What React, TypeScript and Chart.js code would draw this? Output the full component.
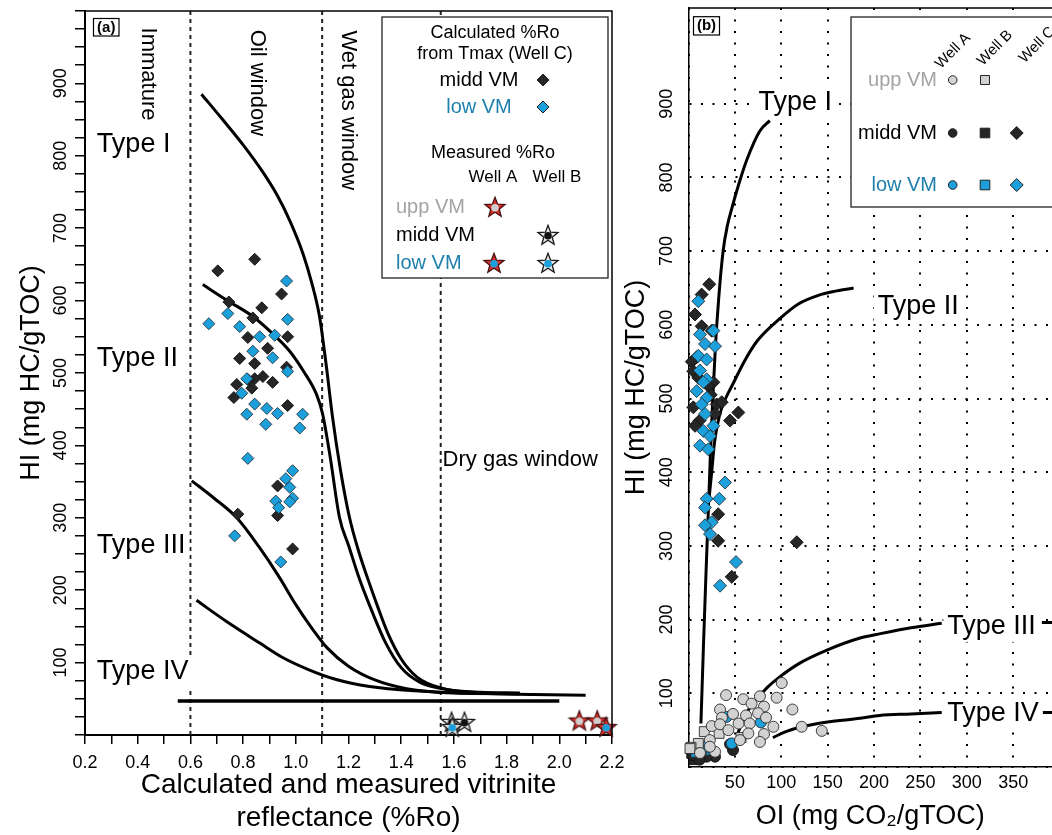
import React, { useEffect, useRef } from 'react';
import { Chart, registerables } from 'chart.js';

Chart.register(...registerables);

const FONT = '"Liberation Sans", Arial, Helvetica, sans-serif';
const BLUE = '#1ba0dc';
const BLUE_TEXT = '#1f80ad';
const GRAY_TEXT = '#a3a3a3';
const DARK = '#262626';
const GRAY_FILL = '#d2d2d2';
const RED = '#d9302c';

type P = [number, number];

// ---------------- Panel (a): HI vs %Ro ----------------
const roTickLabels = ['0.2', '0.4', '0.6', '0.8', '1.0', '1.2', '1.4', '1.6', '1.8', '2.0', '2.2'];
const hiTickLabels = [100, 200, 300, 400, 500, 600, 700, 800, 900];

const calcRoMiddVM: P[] = [
  [0.844, 657], [0.704, 641], [0.946, 609], [0.746, 598], [0.871, 590], [0.837, 576],
  [0.818, 549], [0.969, 550], [0.893, 534], [0.787, 520], [0.844, 513], [0.965, 508],
  [0.875, 495], [0.844, 492], [0.818, 491], [0.776, 484], [0.912, 487], [0.833, 479],
  [0.765, 466], [0.969, 455], [0.931, 344], [0.931, 303], [0.78, 305], [0.988, 257],
];
const calcRoLowVM: P[] = [
  [0.965, 627], [0.742, 582], [0.67, 568], [0.969, 574], [0.787, 564], [0.863, 550],
  [0.92, 552], [0.837, 530], [0.912, 521], [0.969, 502], [0.814, 492], [0.795, 472],
  [0.844, 457], [0.814, 443], [0.89, 451], [0.931, 444], [1.026, 443], [0.886, 429],
  [1.015, 424], [0.818, 382], [0.988, 365], [0.962, 354], [0.977, 342], [0.924, 323],
  [0.988, 327], [0.935, 314], [0.977, 322], [0.768, 275], [0.943, 239],
];
const measuredWellAUpp: P[] = [[2.076, 20], [2.144, 20]];
const measuredWellALow: P[] = [[2.178, 11]];
const measuredWellBMidd: P[] = [[1.591, 18], [1.64, 18]];
const measuredWellBLow: P[] = [[1.594, 11]];

const roTypeI: P[] = [
  [0.642, 885], [0.72, 851], [0.8, 815], [0.87, 780], [0.93, 745], [0.98, 708], [1.027, 665],
  [1.06, 625], [1.09, 578], [1.115, 512], [1.139, 440], [1.17, 365], [1.204, 300], [1.24, 252],
  [1.272, 217], [1.31, 178], [1.35, 140], [1.4, 105], [1.46, 80], [1.55, 65], [1.7, 58], [1.9, 56], [2.1, 55],
];
const roTypeII: P[] = [
  [0.647, 622], [0.74, 600], [0.837, 578], [0.91, 555], [0.977, 530], [1.03, 502], [1.079, 470],
  [1.102, 443], [1.13, 385], [1.166, 300], [1.2, 262], [1.242, 215], [1.29, 170], [1.34, 128],
  [1.4, 93], [1.47, 73], [1.57, 63], [1.7, 59], [1.85, 58],
];
const roTypeIII: P[] = [
  [0.605, 351], [0.69, 327], [0.776, 300], [0.86, 260], [0.939, 217], [1.0, 180], [1.06, 148],
  [1.12, 120], [1.2, 95], [1.3, 76], [1.42, 64], [1.6, 58], [1.85, 57],
];
const roTypeIV: P[] = [
  [0.623, 186], [0.74, 156], [0.863, 127], [0.95, 107], [1.05, 90], [1.15, 77], [1.28, 67],
  [1.45, 61], [1.65, 58], [1.85, 57],
];
const roBaseLine: P[] = [[0.552, 47], [2.0, 47]];
const windowBounds = [0.6, 1.1, 1.55];

// ---------------- Panel (b): HI vs OI ----------------
const oiTickLabels = ['50', '100', '150', '200', '250', '300', '350'];

const oiWellCMidd: P[] = [
  [22.4, 655], [14.2, 641], [7, 614], [14.2, 598], [25, 592], [8.8, 556], [3.6, 550], [5.2, 537],
  [10.6, 528], [26.8, 522], [21.4, 517], [24, 505], [5.2, 488], [30.4, 492], [35.8, 495],
  [28.6, 479], [53.7, 481], [44.8, 470], [12, 470], [7, 463], [32, 343], [32, 307], [46.6, 258],
  [116.7, 305],
];
const oiWellCLow: P[] = [
  [10.6, 632], [12.4, 587], [26.8, 592], [17.8, 574], [28.6, 571], [10.6, 558], [19.6, 553],
  [12.4, 538], [19.6, 526], [16, 522], [8.8, 510], [19.6, 501], [14.2, 492], [17.8, 479],
  [16, 456], [26.8, 463], [23.2, 449], [12.4, 436], [21.4, 431], [39.4, 386], [19.6, 364],
  [33.2, 364], [17.8, 352], [25, 332], [17.8, 328], [23.2, 316], [51.2, 278], [34, 246],
];
const oiWellAUpp: P[] = [
  [100.5, 114], [40.5, 97.5], [77, 96], [59, 92], [68, 86], [34, 78], [81.4, 82], [95, 94],
  [112, 78], [48, 72], [62, 70], [75, 73], [83.6, 67], [36, 67], [25, 55.5], [34, 58], [54, 59],
  [66, 59], [91.5, 54.6], [122, 54.6], [143.7, 49], [43, 50], [64.5, 45.6], [81.4, 44.7],
  [77, 34], [55.5, 36.5], [23, 36.5], [12.4, 19], [28.6, 20.7], [23, 27.5],
];
const oiWellBUpp: P[] = [[17, 48], [33, 45.6], [56.6, 40], [10.6, 32], [2.7, 26.7], [1.6, 25]];
const oiWellAMidd: P[] = [[48, 23], [44.8, 31], [28.6, 14], [19.6, 14], [5, 16], [12, 10]];
const oiWellBMidd: P[] = [[3.5, 18.5], [10.6, 14], [6, 10]];
const oiWellALow: P[] = [[78, 60.5], [41, 68], [20, 27.5], [46.6, 32], [14, 22]];
const oiWellBLow: P[] = [[18, 23], [8, 20]];

const oiTypeI: P[] = [
  [13.4, 59], [16, 160], [18.5, 250], [21, 335], [23.5, 420], [26, 495], [29, 570], [32.5, 635],
  [37.4, 701], [42, 735], [46.5, 757], [54, 790], [62.6, 823], [76.9, 863], [87.6, 877],
];
const oiTypeII: P[] = [
  [22, 362], [25, 400], [28, 440], [33, 475], [40, 500], [48, 520], [60, 550], [74, 578],
  [99, 609], [118, 628], [140, 640], [160, 646], [178, 650],
];
const oiTypeIII: P[] = [
  [53, 45], [60, 68], [73, 91], [85, 108], [98, 122], [120, 141], [148, 158], [185, 175],
  [207, 181], [240, 189], [273, 195],
];
const oiTypeIV: P[] = [
  [91, 40], [105, 48], [120, 54], [150, 61], [185, 66], [206, 70], [240, 72], [273, 74],
];
const oiTypeIIITail: P[] = [[381, 196], [392, 196]];
const oiTypeIVTail: P[] = [[381, 74], [392, 74]];

// ---------------- helpers ----------------
const pts = (a: P[]) => a.map(([x, y]) => ({ x, y }));

function makeStar(arm: string, stroke: string, dot: string) {
  const c = document.createElement('canvas');
  const S = 24;
  c.width = S;
  c.height = S;
  const g = c.getContext('2d')!;
  const cx = S / 2, cy = S / 2 + 0.8, R = 10.5, r = 4.4;
  g.beginPath();
  for (let i = 0; i < 10; i++) {
    const ang = -Math.PI / 2 + (i * Math.PI) / 5;
    const rad = i % 2 === 0 ? R : r;
    g.lineTo(cx + rad * Math.cos(ang), cy + rad * Math.sin(ang));
  }
  g.closePath();
  g.fillStyle = arm;
  g.fill();
  g.lineWidth = 1.3;
  g.strokeStyle = stroke;
  g.stroke();
  g.beginPath();
  g.arc(cx, cy, 3.8, 0, Math.PI * 2);
  g.fillStyle = dot;
  g.fill();
  return c;
}

function txt(ctx: any, s: string, x: number, y: number, o: any) {
  ctx.save();
  ctx.font = `${o.weight || 'normal'} ${o.size}px ${FONT}`;
  const color = o.color || '#000';
  const align = o.align || 'left';
  ctx.textAlign = align;
  ctx.textBaseline = o.base || 'middle';
  ctx.translate(x, y);
  if (o.rot) ctx.rotate(o.rot);
  if (o.bg) {
    const w = ctx.measureText(s).width;
    const x0 = align === 'center' ? -w / 2 : align === 'right' ? -w : 0;
    ctx.fillStyle = '#fff';
    ctx.fillRect(x0 - 4, -o.size * 0.58, w + 8, o.size * 1.16);
  }
  ctx.fillStyle = color;
  ctx.fillText(s, 0, 0);
  ctx.restore();
}

function marker(ctx: any, kind: string, x: number, y: number, r: number, fill: string) {
  ctx.save();
  ctx.beginPath();
  if (kind === 'circle') ctx.arc(x, y, r, 0, Math.PI * 2);
  else if (kind === 'square') ctx.rect(x - r, y - r, 2 * r, 2 * r);
  else {
    ctx.moveTo(x, y - r);
    ctx.lineTo(x + r, y);
    ctx.lineTo(x, y + r);
    ctx.lineTo(x - r, y);
    ctx.closePath();
  }
  ctx.fillStyle = fill;
  ctx.fill();
  ctx.lineWidth = 1;
  ctx.strokeStyle = '#222';
  ctx.stroke();
  ctx.restore();
}

function boxLabel(ctx: any, s: string, x: number, y: number, w: number, h: number) {
  ctx.save();
  ctx.fillStyle = '#fff';
  ctx.fillRect(x, y, w, h);
  ctx.lineWidth = 1.2;
  ctx.strokeStyle = '#000';
  ctx.strokeRect(x, y, w, h);
  ctx.restore();
  txt(ctx, s, x + w / 2, y + h / 2 + 0.5, { size: 15, weight: 'bold', align: 'center' });
}

const scatterSet = (data: P[], style: any, radius: number, fill: string, border = '#1c1c1c') => ({
  data: pts(data),
  showLine: false,
  pointStyle: style,
  pointRadius: radius,
  pointBackgroundColor: fill,
  pointBorderColor: border,
  pointBorderWidth: 0.9,
  clip: false,
});

const curveSet = (data: P[], width = 3) => ({
  data: pts(data),
  showLine: true,
  pointRadius: 0,
  borderColor: '#000',
  borderWidth: width,
  cubicInterpolationMode: 'monotone',
  fill: false,
});

const straightSet = (data: P[], width: number, dash: number[] = [], color = '#000') => ({
  data: pts(data),
  showLine: true,
  pointRadius: 0,
  borderColor: color,
  borderWidth: width,
  borderDash: dash,
  tension: 0,
  fill: false,
});

export default function App() {
  const refA = useRef<HTMLCanvasElement>(null);
  const refB = useRef<HTMLCanvasElement>(null);

  useEffect(() => {
    document.body.style.margin = '0';
    const starUppA = makeStar(RED, '#4a1010', '#cfcfcf');
    const starLowA = makeStar(RED, '#4a1010', BLUE);
    const starMiddB = makeStar('#e6e6e6', '#1a1a1a', '#111');
    const starLowB = makeStar('#e6e6e6', '#1a1a1a', BLUE);

    // ---------- Panel (a) ----------
    const pluginA = {
      id: 'panelA',
      afterDraw(chart: any) {
        const ctx = chart.ctx;
        const X = (v: number) => chart.scales.x.getPixelForValue(v);
        const Y = (v: number) => chart.scales.y.getPixelForValue(v);
        const { left, right, top, bottom } = chart.chartArea;
        ctx.save();
        ctx.strokeStyle = '#000';
        ctx.lineWidth = 1.5;
        ctx.beginPath();
        ctx.moveTo(left, top);
        ctx.lineTo(right, top);
        ctx.lineTo(right, bottom);
        ctx.stroke();
        ctx.restore();

        for (const v of hiTickLabels) txt(ctx, String(v), 61, Y(v), { size: 18, align: 'center', rot: -Math.PI / 2 });

        txt(ctx, 'Type I', X(0.245), Y(816), { size: 27, bg: true });
        txt(ctx, 'Type II', X(0.245), Y(520), { size: 27, bg: true });
        txt(ctx, 'Type III', X(0.245), Y(262), { size: 27, bg: true });
        txt(ctx, 'Type IV', X(0.245), Y(88), { size: 27, bg: true });

        txt(ctx, 'Immature', X(0.44), Y(977), { size: 22, rot: Math.PI / 2 });
        txt(ctx, 'Oil window', X(0.852), Y(974), { size: 22, rot: Math.PI / 2 });
        txt(ctx, 'Wet gas window', X(1.2), Y(973), { size: 22, rot: Math.PI / 2 });
        txt(ctx, 'Dry gas window', X(1.557), Y(380), { size: 22 });

        boxLabel(ctx, '(a)', 93.5, 18.5, 25.5, 17.5);

        // legend
        ctx.save();
        ctx.fillStyle = '#fff';
        ctx.fillRect(382, 17, 226, 261);
        ctx.lineWidth = 1.3;
        ctx.strokeStyle = '#222';
        ctx.strokeRect(382, 17, 226, 261);
        ctx.restore();
        txt(ctx, 'Calculated %Ro', 495, 33, { size: 18, align: 'center' });
        txt(ctx, 'from Tmax (Well C)', 495, 54, { size: 18, align: 'center' });
        txt(ctx, 'midd VM', 479, 80, { size: 20, align: 'center' });
        marker(ctx, 'diamond', 543, 80, 6, DARK);
        txt(ctx, 'low VM', 479, 107, { size: 20, align: 'center', color: BLUE_TEXT });
        marker(ctx, 'diamond', 543, 107, 6, BLUE);
        txt(ctx, 'Measured %Ro', 493, 153, { size: 18, align: 'center' });
        txt(ctx, 'Well A', 493, 177, { size: 17, align: 'center' });
        txt(ctx, 'Well B', 557, 177, { size: 17, align: 'center' });
        txt(ctx, 'upp VM', 396, 207, { size: 20, color: GRAY_TEXT });
        txt(ctx, 'midd VM', 396, 235, { size: 20 });
        txt(ctx, 'low VM', 396, 263, { size: 20, color: BLUE_TEXT });
        ctx.drawImage(starUppA, 495 - 12, 207 - 12);
        ctx.drawImage(starMiddB, 548 - 12, 235 - 12);
        ctx.drawImage(starLowA, 494 - 12, 263 - 12);
        ctx.drawImage(starLowB, 548 - 12, 263 - 12);
      },
    };

    const chartA = new Chart(refA.current!, {
      type: 'scatter',
      data: {
        datasets: [
          { ...scatterSet(measuredWellBLow, starLowB, 10, BLUE) },
          { ...scatterSet(measuredWellALow, starLowA, 10, BLUE) },
          { ...scatterSet(measuredWellAUpp, starUppA, 10, GRAY_FILL) },
          { ...scatterSet(measuredWellBMidd, starMiddB, 10, DARK) },
          scatterSet(calcRoLowVM, 'rectRot', 6, BLUE, '#24343e'),
          scatterSet(calcRoMiddVM, 'rectRot', 6, DARK, '#111'),
          curveSet(roTypeI),
          curveSet(roTypeII),
          curveSet(roTypeIII),
          curveSet(roTypeIV),
          straightSet(roBaseLine, 3.5),
          ...windowBounds.map((b) => straightSet([[b, 0], [b, 1000]], 2, [4, 4], '#222')),
        ] as any,
      },
      options: {
        animation: false,
        responsive: false,
        devicePixelRatio: 1,
        events: [],
        layout: { padding: { top: 8, right: 28, left: 0, bottom: 0 } },
        plugins: { legend: { display: false }, tooltip: { enabled: false } },
        scales: {
          x: {
            type: 'linear',
            min: 0.2,
            max: 2.2,
            afterFit: (s: any) => { s.height = 100; },
            ticks: {
              stepSize: 0.1,
              autoSkip: false,
              maxRotation: 0,
              minRotation: 0,
              includeBounds: false,
              padding: 8,
              color: '#000',
              font: { family: FONT, size: 18 },
              callback: (v: any) => {
                const s = Number(v).toFixed(1);
                return roTickLabels.includes(s) ? s : '';
              },
            },
            grid: { drawOnChartArea: false, drawTicks: true, tickLength: 9, color: '#000', lineWidth: 1.5 },
            border: { display: true, color: '#000', width: 2 },
            title: {
              display: true,
              text: ['Calculated and measured vitrinite', 'reflectance (%Ro)'],
              color: '#000',
              font: { family: FONT, size: 28, lineHeight: 1.18 },
              padding: { top: 0, bottom: 0 },
            },
          },
          y: {
            type: 'linear',
            min: 0,
            max: 1000,
            afterFit: (s: any) => { s.width = 85; },
            ticks: { stepSize: 25, display: false, includeBounds: false },
            grid: { drawOnChartArea: false, drawTicks: true, tickLength: 10, color: '#000', lineWidth: 1.5 },
            border: { display: true, color: '#000', width: 2 },
            title: {
              display: true,
              text: 'HI (mg HC/gTOC)',
              color: '#000',
              font: { family: FONT, size: 27 },
              padding: { top: 15, bottom: 0 },
            },
          },
        },
      } as any,
      plugins: [pluginA],
    });

    // ---------- Panel (b) ----------
    const OFF = 615;
    const pluginB = {
      id: 'panelB',
      afterDraw(chart: any) {
        const ctx = chart.ctx;
        const X = (v: number) => chart.scales.x.getPixelForValue(v);
        const Y = (v: number) => chart.scales.y.getPixelForValue(v);
        const { left, right, top } = chart.chartArea;
        ctx.save();
        ctx.strokeStyle = '#000';
        ctx.lineWidth = 1.5;
        ctx.beginPath();
        ctx.moveTo(left, top);
        ctx.lineTo(right, top);
        ctx.stroke();
        ctx.restore();

        for (const v of hiTickLabels) txt(ctx, String(v), 667 - OFF, Y(v), { size: 18, align: 'center', rot: -Math.PI / 2 });

        txt(ctx, 'Type I', X(75.5), Y(902), { size: 27, bg: true });
        txt(ctx, 'Type II', X(204), Y(625), { size: 27, bg: true });
        txt(ctx, 'Type III', X(279), Y(191), { size: 27, bg: true });
        txt(ctx, 'Type IV', X(279), Y(73), { size: 27, bg: true });

        boxLabel(ctx, '(b)', 693.5 - OFF, 16.7, 26, 18.3);

        // legend
        const lx = 851 - OFF;
        ctx.save();
        ctx.fillStyle = '#fff';
        ctx.fillRect(lx, 17, 300, 190);
        ctx.lineWidth = 1.3;
        ctx.strokeStyle = '#222';
        ctx.strokeRect(lx, 17, 300, 190);
        ctx.restore();
        txt(ctx, 'Well A', 953 - OFF, 51, { size: 15, align: 'center', rot: -Math.PI / 4 });
        txt(ctx, 'Well B', 995 - OFF, 48, { size: 15, align: 'center', rot: -Math.PI / 4 });
        txt(ctx, 'Well C', 1037 - OFF, 45, { size: 15, align: 'center', rot: -Math.PI / 4 });
        const cA = 952.7 - OFF, cB = 985 - OFF, cC = 1016.7 - OFF;
        txt(ctx, 'upp VM', 937 - OFF, 80, { size: 20, align: 'right', color: GRAY_TEXT });
        marker(ctx, 'circle', cA, 80, 4.3, GRAY_FILL);
        marker(ctx, 'square', cB, 80, 4.5, GRAY_FILL);
        txt(ctx, 'midd VM', 937 - OFF, 133, { size: 20, align: 'right' });
        marker(ctx, 'circle', cA, 133, 4.3, DARK);
        marker(ctx, 'square', cB, 133, 4.8, DARK);
        marker(ctx, 'diamond', cC, 133, 6.5, DARK);
        txt(ctx, 'low VM', 937 - OFF, 185, { size: 20, align: 'right', color: BLUE_TEXT });
        marker(ctx, 'circle', cA, 185, 4.3, BLUE);
        marker(ctx, 'square', cB, 185, 4.8, BLUE);
        marker(ctx, 'diamond', cC, 185, 6.5, BLUE);
      },
    };

    const chartB = new Chart(refB.current!, {
      type: 'scatter',
      data: {
        datasets: [
          scatterSet(oiWellCLow, 'rectRot', 6.5, BLUE, '#24343e'),
          scatterSet(oiWellCMidd, 'rectRot', 6.5, DARK, '#111'),
          scatterSet(oiWellAUpp, 'circle', 5.5, GRAY_FILL, '#2a2a2a'),
          scatterSet(oiWellBUpp, 'rect', 7, GRAY_FILL, '#2a2a2a'),
          scatterSet(oiWellALow, 'circle', 5.5, BLUE, '#2a2a2a'),
          scatterSet(oiWellBLow, 'rect', 7, BLUE, '#2a2a2a'),
          scatterSet(oiWellAMidd, 'circle', 5.5, DARK, '#111'),
          scatterSet(oiWellBMidd, 'rect', 7, DARK, '#111'),
          curveSet(oiTypeI),
          curveSet(oiTypeII),
          curveSet(oiTypeIII),
          curveSet(oiTypeIV),
          straightSet(oiTypeIIITail, 3),
          straightSet(oiTypeIVTail, 3),
        ] as any,
      },
      options: {
        animation: false,
        responsive: false,
        devicePixelRatio: 1,
        events: [],
        layout: { padding: { top: 7, right: 7, left: 0, bottom: 0 } },
        plugins: { legend: { display: false }, tooltip: { enabled: false } },
        scales: {
          x: {
            type: 'linear',
            min: 0,
            max: 392,
            afterFit: (s: any) => { s.height = 68; },
            ticks: {
              stepSize: 50,
              autoSkip: false,
              maxRotation: 0,
              minRotation: 0,
              includeBounds: false,
              padding: 5,
              color: '#000',
              font: { family: FONT, size: 18 },
              callback: (v: any) => {
                const s = String(Math.round(Number(v)));
                return oiTickLabels.includes(s) ? s : '';
              },
            },
            grid: {
              drawOnChartArea: true,
              drawTicks: false,
              color: '#000',
              lineWidth: 2,
            },
            border: { display: true, color: '#000', width: 1.5, dash: [2, 9.5] },
            title: {
              display: true,
              text: 'OI (mg CO\u2082/gTOC)',
              color: '#000',
              font: { family: FONT, size: 27 },
              padding: { top: 0, bottom: 2 },
            },
          },
          y: {
            type: 'linear',
            min: 0,
            max: 1030,
            afterFit: (s: any) => { s.width = 73.5; },
            ticks: { stepSize: 100, display: false, includeBounds: false },
            grid: {
              drawOnChartArea: true,
              drawTicks: false,
              lineWidth: 2,
              color: (c: any) => (c.tick && c.tick.value > 950 ? 'rgba(0,0,0,0)' : '#000'),
            },
            border: { display: true, color: '#000', width: 1.5, dash: [2, 9.5] },
            title: {
              display: true,
              text: 'HI (mg HC/gTOC)',
              color: '#000',
              font: { family: FONT, size: 27 },
              padding: { top: 5, bottom: 0 },
            },
          },
        },
      } as any,
      plugins: [pluginB],
    });

    return () => {
      chartA.destroy();
      chartB.destroy();
    };
  }, []);

  return (
    <div style={{ position: 'relative', width: 1052, height: 835, overflow: 'hidden', background: '#fff' }}>
      <canvas ref={refA} width={640} height={835} style={{ position: 'absolute', left: 0, top: 0, width: 640, height: 835 }} />
      <canvas ref={refB} width={445} height={835} style={{ position: 'absolute', left: 615, top: 0, width: 445, height: 835 }} />
    </div>
  );
}
